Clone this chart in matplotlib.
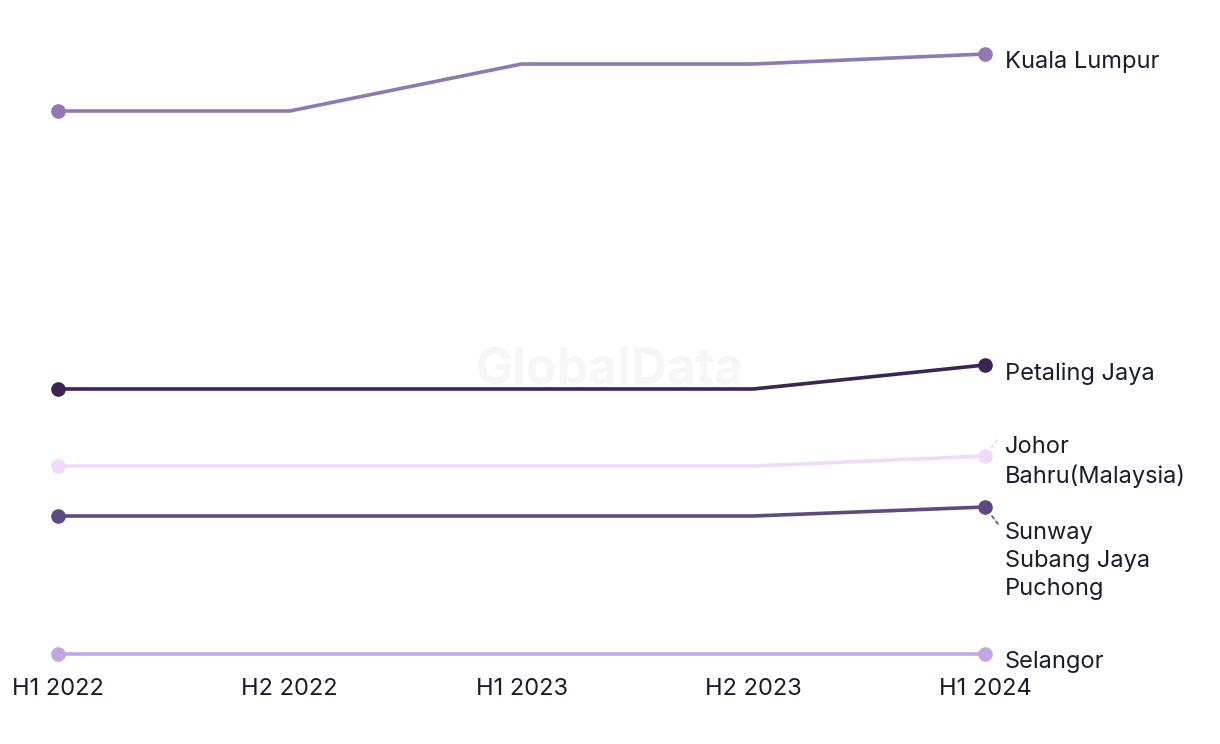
import matplotlib
matplotlib.use("Agg")
import matplotlib.pyplot as plt

periods = ["H1 2022", "H2 2022", "H1 2023", "H2 2023", "H1 2024"]

kuala_lumpur = [64.3, 64.3, 69.0, 69.0, 70.0]
petaling_jaya = [36.5, 36.5, 36.5, 36.5, 38.9]
johor_bahru = [28.8, 28.8, 28.8, 28.8, 29.8]
sunway = [23.8, 23.8, 23.8, 23.8, 24.7]
selangor = [10.0, 10.0, 10.0, 10.0, 10.0]

series = [
    ("Kuala Lumpur", kuala_lumpur, "#8e78b6"),
    ("Petaling Jaya", petaling_jaya, "#3a2456"),
    ("Johor\nBahru(Malaysia)", johor_bahru, "#f0d9f9"),
    ("Sunway\nSubang Jaya\nPuchong", sunway, "#5e4a80"),
    ("Selangor", selangor, "#c1a7e2"),
]

# label offsets in pixels (dx, dy) relative to the last point
label_offsets = {
    "Kuala Lumpur": (20, -8),
    "Petaling Jaya": (20, -9),
    "Johor\nBahru(Malaysia)": (20, -6),
    "Sunway\nSubang Jaya\nPuchong": (20, -54),
    "Selangor": (20, -8),
}

plt.rcParams['font.family'] = ['Inter', 'DejaVu Sans']

fig = plt.figure(figsize=(12.2, 7.44), dpi=100)
ax = fig.add_axes([58 / 1220, 1 - 654 / 744, (985 - 58) / 1220, 600 / 744])
ax.set_xlim(0, len(periods) - 1)
ax.set_ylim(10, 70)

x = list(range(len(periods)))

fig.text(610 / 1220, 1 - 371 / 744, "GlobalData", ha="center", va="center",
         fontsize=36, fontweight="bold", color="#f6f6f6", zorder=0)

for name, vals, col in series:
    ax.plot(x, vals, color=col, lw=2.6, solid_capstyle="round", clip_on=False, zorder=3)
    ax.plot([x[0], x[-1]], [vals[0], vals[-1]], "o", color=col, ms=9.5,
            clip_on=False, zorder=4)
    dx, dy = label_offsets[name]
    ax.annotate(name, xy=(x[-1], vals[-1]), xytext=(dx, dy), textcoords="offset pixels",
                ha="left", va="center", fontsize=17, color="#1b1b2f",
                linespacing=1.38, annotation_clip=False)

# short dashed leader lines
ax.annotate("", xy=(x[-1], johor_bahru[-1]), xytext=(12, 16), textcoords="offset pixels",
            arrowprops=dict(arrowstyle="-", color="#f0d9f9", ls=(0, (2, 2)), lw=1.2,
                            shrinkA=0, shrinkB=6), annotation_clip=False)
ax.annotate("", xy=(x[-1], sunway[-1]), xytext=(13, -17), textcoords="offset pixels",
            arrowprops=dict(arrowstyle="-", color="#5e4a80", ls=(0, (2, 2)), lw=1.2,
                            shrinkA=0, shrinkB=6), annotation_clip=False)

ax.set_xticks(x)
ax.set_xticklabels(periods, fontsize=17, color="#1b1b2f")
ax.tick_params(axis="x", length=0, pad=17)
ax.set_yticks([])
for s in ax.spines.values():
    s.set_visible(False)
ax.patch.set_alpha(0)

fig.savefig("out.png", dpi=100)
